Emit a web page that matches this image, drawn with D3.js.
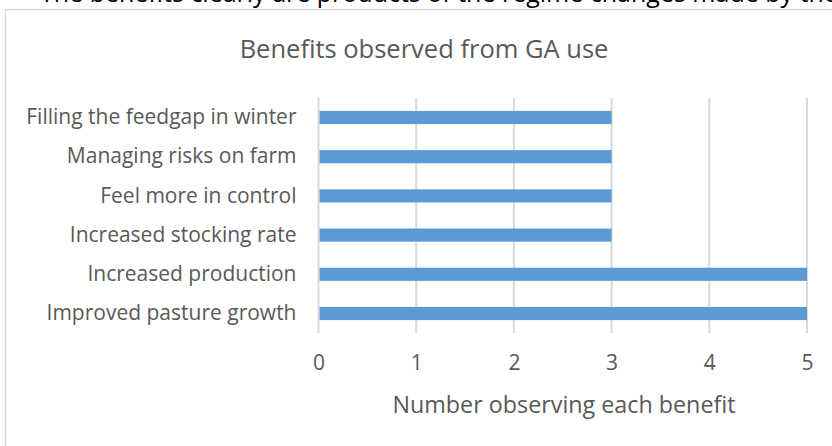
<!DOCTYPE html>
<html>
<head>
<meta charset="utf-8">
<script src="https://cdn.jsdelivr.net/npm/d3@7/dist/d3.min.js"></script>
<style>
  html, body { margin: 0; padding: 0; background: #fff; }
  svg { display: block; font-family: "Open Sans", sans-serif; }
</style>
</head>
<body>
<svg id="chart" width="832" height="446"></svg>
<script>
// Benefits reported by farmers, top to bottom as listed
const categories = [
  "Filling the feedgap in winter",
  "Managing risks on farm",
  "Feel more in control",
  "Increased stocking rate",
  "Increased production",
  "Improved pasture growth"
];
const counts = [3, 3, 3, 3, 5, 5];
const xTicks = [0, 1, 2, 3, 4, 5];
const chartTitle = "Benefits observed from GA use";
const xTitle = "Number observing each benefit";
const runningText = "The benefits clearly are products of the regime changes made by the";

const svg = d3.select("#chart");
const textColor = "#595959";
const gridColor = "#d9d9d9";
const barColor = "#5b9bd5";

// Line of body text above the chart frame (only its lower part is on the page)
svg.append("text")
  .attr("x", 40).attr("y", 2)
  .attr("font-size", 25)
  .attr("fill", "#000")
  .text(runningText);

// Chart frame
svg.append("rect")
  .attr("x", 5.5).attr("y", 9.5)
  .attr("width", 900).attr("height", 500)
  .attr("fill", "#fff")
  .attr("stroke", gridColor)
  .attr("stroke-width", 1.5);

const plot = { left: 318.5, right: 807, top: 98, bottom: 333 };

const x = d3.scaleLinear().domain([0, 5]).range([plot.left, plot.right]);
const y = d3.scaleBand().domain(categories).range([plot.top, plot.bottom]).paddingInner(0.665).paddingOuter(0.33);

// Vertical gridlines
svg.append("g")
  .selectAll("line")
  .data(xTicks)
  .join("line")
  .attr("x1", d => x(d)).attr("x2", d => x(d))
  .attr("y1", plot.top).attr("y2", plot.bottom)
  .attr("stroke", gridColor)
  .attr("stroke-width", 2);

// Bars
svg.append("g")
  .selectAll("rect")
  .data(categories.map((c, i) => ({ c, v: counts[i] })))
  .join("rect")
  .attr("x", x(0) + 1)
  .attr("y", d => y(d.c))
  .attr("width", d => x(d.v) - x(0) - 1)
  .attr("height", y.bandwidth())
  .attr("fill", barColor);

// Category axis labels
const yAxis = d3.axisLeft(y).tickSize(0).tickPadding(22);
const yg = svg.append("g").attr("transform", `translate(${plot.left},0)`).call(yAxis);
yg.select(".domain").remove();
yg.selectAll("text")
  .attr("font-size", 21)
  .attr("font-family", "Open Sans, sans-serif")
  .attr("fill", textColor);

// Value axis tick labels
const xAxis = d3.axisBottom(x).tickValues(xTicks).tickFormat(d3.format("d")).tickSize(0).tickPadding(22);
const xg = svg.append("g").attr("transform", `translate(0,${plot.bottom})`).call(xAxis);
xg.select(".domain").remove();
xg.selectAll("text")
  .attr("font-size", 21)
  .attr("font-family", "Open Sans, sans-serif")
  .attr("fill", textColor);

// Axis title
svg.append("text")
  .attr("x", 564)
  .attr("y", 413)
  .attr("text-anchor", "middle")
  .attr("font-size", 23.3)
  .attr("fill", textColor)
  .text(xTitle);

// Chart title
svg.append("text")
  .attr("x", 424)
  .attr("y", 58)
  .attr("text-anchor", "middle")
  .attr("font-size", 25.5)
  .attr("fill", textColor)
  .text(chartTitle);
</script>
</body>
</html>
